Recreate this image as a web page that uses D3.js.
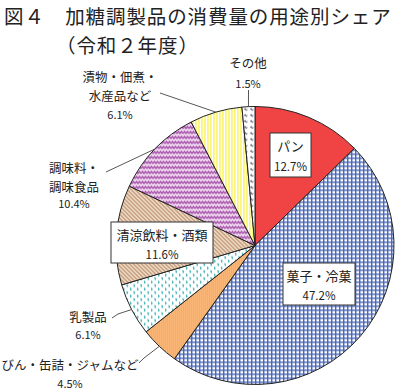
<!DOCTYPE html>
<html><head><meta charset="utf-8">
<script src="https://cdn.jsdelivr.net/npm/d3@7"></script>
<style>
body{margin:0;background:#fff;}
svg text{font-family:"Noto Sans CJK JP","Noto Sans",sans-serif;fill:#222;}
</style></head>
<body><svg id="c" width="400" height="392"></svg>
<script>
const categories = ["パン","菓子・冷菓","びん・缶詰・ジャムなど","乳製品","清涼飲料・酒類","調味料・調味食品","漬物・佃煮・水産品など","その他"];
const shares = [12.7,47.2,4.5,6.1,11.6,10.4,6.1,1.5];
const pctLabels = ["12.7%","47.2%","4.5%","6.1%","11.6%","10.4%","6.1%","1.5%"];
const titleLine1 = "図４　加糖調製品の消費量の用途別シェア";
const titleLine2 = "（令和２年度）";

const svg = d3.select("#c");
const cx = 255, cy = 245.5, R = 139;
const defs = svg.append("defs");

function pat(id,w,h,bg,draw){
  const p = defs.append("pattern").attr("id",id).attr("patternUnits","userSpaceOnUse").attr("width",w).attr("height",h);
  p.append("rect").attr("width",w).attr("height",h).attr("fill",bg);
  draw(p);
}
pat("pGrid",4,4,"#ffffff",p=>{
  p.append("rect").attr("x",0).attr("y",0).attr("width",4).attr("height",1.4).attr("fill","#4a66b8");
  p.append("rect").attr("x",0).attr("y",0).attr("width",1.4).attr("height",4).attr("fill","#4a66b8");
});
pat("pOrange",2,2,"#f9b676",p=>{
  p.append("rect").attr("x",0).attr("y",0).attr("width",1).attr("height",1).attr("fill","#f4a45e");
});
pat("pTeal",7,7,"#ffffff",p=>{
  p.append("path").attr("d","M1,0.5 l1,1 l-0.5,1.5 M4.5,4 l1,1 l-0.5,1.5").attr("stroke","#3aaeb0").attr("stroke-width",1.2).attr("fill","none");
});
pat("pHatch",4,4,"#f3e0cc",p=>{
  p.append("path").attr("d","M-1,-1 L5,5 M-1,3 L1,5 M3,-1 L5,1").attr("stroke","#b28462").attr("stroke-width",1.1);
});
pat("pZig",6,5,"#f0d6f0",p=>{
  p.append("path").attr("d","M0,3 L1.5,1 L3,3 L4.5,1 L6,3").attr("stroke","#a24ea6").attr("stroke-width",1.3).attr("fill","none");
});
pat("pYel",3,3,"#ffffff",p=>{
  p.append("rect").attr("x",0).attr("y",0).attr("width",1.8).attr("height",3).attr("fill","#fbf57a");
});
pat("pOther",6,6,"#ffffff",p=>{
  p.append("path").attr("d","M1,2 L2.5,1 L3,3 L4.5,2").attr("stroke","#555a70").attr("stroke-width",1).attr("fill","none");
});

const fills = ["#f04444","url(#pGrid)","url(#pOrange)","url(#pTeal)","url(#pHatch)","url(#pZig)","url(#pYel)","url(#pOther)"];

const pie = d3.pie().sort(null).value(d=>d)(shares);
const arc = d3.arc().innerRadius(0).outerRadius(R);
const g = svg.append("g").attr("transform",`translate(${cx},${cy})`);
g.selectAll("path").data(pie).join("path")
  .attr("d",arc).attr("fill",(d,i)=>fills[i])
  .attr("stroke","#222").attr("stroke-width",1);

// Title
svg.append("text").attr("x",4).attr("y",24).attr("font-size",19.5).attr("letter-spacing",0.9).text(titleLine1);
svg.append("text").attr("x",56).attr("y",52.5).attr("font-size",19.5).attr("letter-spacing",0.9).text(titleLine2);

function edge(i){
  const a = (pie[i].startAngle+pie[i].endAngle)/2;
  return [cx+R*Math.sin(a), cy-R*Math.cos(a)];
}
const leaders = [
  {i:7, pts:[[248.5,90]]},
  {i:6, pts:[[160,93]]},
  {i:5, pts:[[106,172]]},
  {i:3, pts:[[112,318],[118,314]]},
  {i:2, pts:[[139,363],[144,358]]}
];
leaders.forEach(l=>{
  const e = edge(l.i);
  const pts = l.pts.concat([e]);
  svg.append("path").attr("d",d3.line()(pts)).attr("fill","none").attr("stroke","#444").attr("stroke-width",0.9);
});

function boxLabel(x,y,w,h,lines,sizes,ys){
  svg.append("rect").attr("x",x).attr("y",y).attr("width",w).attr("height",h).attr("fill","#fff").attr("stroke","#333").attr("stroke-width",1);
  lines.forEach((t,k)=>svg.append("text").attr("x",x+w/2).attr("y",ys[k]).attr("text-anchor","middle").attr("font-size",sizes[k]).text(t));
}
boxLabel(270,133,41,44,["パン",pctLabels[0]],[13,11.5],[151,171]);
boxLabel(283,263,72,42,["菓子・冷菓",pctLabels[1]],[13,11.5],[281,300]);
boxLabel(111,222,102,41,["清涼飲料・酒類",pctLabels[4]],[13,11.5],[240,259]);

function plain(x,lines,ys,sizes){
  lines.forEach((t,k)=>svg.append("text").attr("x",x).attr("y",ys[k]).attr("text-anchor","middle").attr("font-size",sizes[k]).text(t));
}
plain(248,["その他",pctLabels[7]],[68,88],[12.5,11]);
plain(120,["漬物・佃煮・","水産品など",pctLabels[6]],[82,101,119],[12.5,12.5,11]);
plain(74,["調味料・","調味食品",pctLabels[5]],[173,191.5,208],[12.5,12.5,11]);
plain(88,["乳製品",pctLabels[3]],[322,339],[12.5,11]);
plain(70,["びん・缶詰・ジャムなど",pctLabels[2]],[370,388],[12.5,11]);
</script></body></html>
